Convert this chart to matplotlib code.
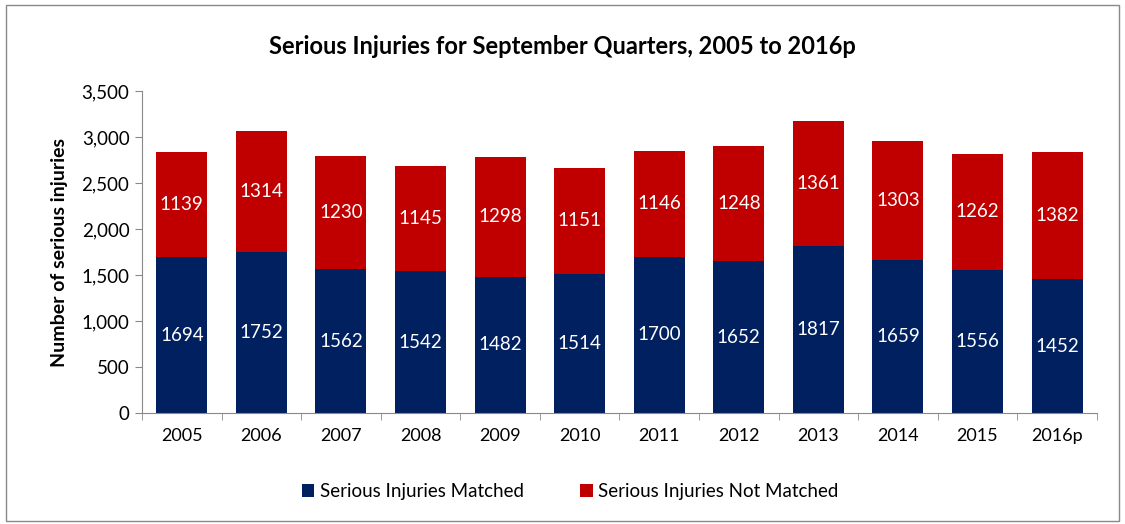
import matplotlib
matplotlib.use("Agg")
import matplotlib.pyplot as plt
import numpy as np
from matplotlib.patches import Rectangle

plt.rcParams['font.family'] = ['Lato', 'DejaVu Sans']

years = ['2005', '2006', '2007', '2008', '2009', '2010', '2011', '2012', '2013', '2014', '2015', '2016p']
matched = [1694, 1752, 1562, 1542, 1482, 1514, 1700, 1652, 1817, 1659, 1556, 1452]
not_matched = [1139, 1314, 1230, 1145, 1298, 1151, 1146, 1248, 1361, 1303, 1262, 1382]

navy = '#002060'
red = '#C00000'

fig = plt.figure(figsize=(11.25, 5.24), dpi=100)
ax = fig.add_axes([0.1262, 0.2118, 0.8488, 0.6145])

x = np.arange(len(years))
b1 = ax.bar(x, matched, width=0.64, color=navy, label='Serious Injuries Matched')
b2 = ax.bar(x, not_matched, width=0.64, bottom=matched, color=red, label='Serious Injuries Not Matched')

for i in range(len(years)):
    ax.text(x[i], matched[i] / 2, str(matched[i]), ha='center', va='center', color='white', fontsize=13.5)
    ax.text(x[i], matched[i] + not_matched[i] / 2, str(not_matched[i]), ha='center', va='center', color='white', fontsize=13.5)

ax.set_xlim(-0.5, len(years) - 0.5)
ax.set_ylim(0, 3500)
ax.set_yticks(range(0, 3501, 500))
ax.set_yticklabels([f"{v:,}" for v in range(0, 3501, 500)], fontsize=13.5)
ax.set_xticks(x)
ax.set_xticklabels(years, fontsize=13)
ax.tick_params(axis='x', length=0, pad=11)
ax.set_xticks(np.arange(-0.5, len(years), 1), minor=True)
ax.tick_params(axis='x', which='minor', length=5, color='#898989')
ax.tick_params(axis='y', length=5, color='#898989', pad=4)

for s in ['top', 'right']:
    ax.spines[s].set_visible(False)
for s in ['left', 'bottom']:
    ax.spines[s].set_color('#898989')

ax.set_ylabel('Number of serious injuries', fontsize=14, fontweight='bold', labelpad=10)
fig.text(0.5, 0.912, 'Serious Injuries for September Quarters, 2005 to 2016p', ha='center', va='center',
         fontsize=17, fontweight='bold')

fig.legend(handles=[b1, b2], loc='center', bbox_to_anchor=(0.507, 0.062), ncol=2, frameon=False,
           fontsize=13.5, handlelength=0.65, handleheight=0.65, handletextpad=0.3, columnspacing=3.0)

fig.patches.append(Rectangle((0.005, 0.006), 0.99, 0.985, transform=fig.transFigure,
                             fill=False, edgecolor='#898989', linewidth=1))

fig.savefig('out.png', dpi=100)
